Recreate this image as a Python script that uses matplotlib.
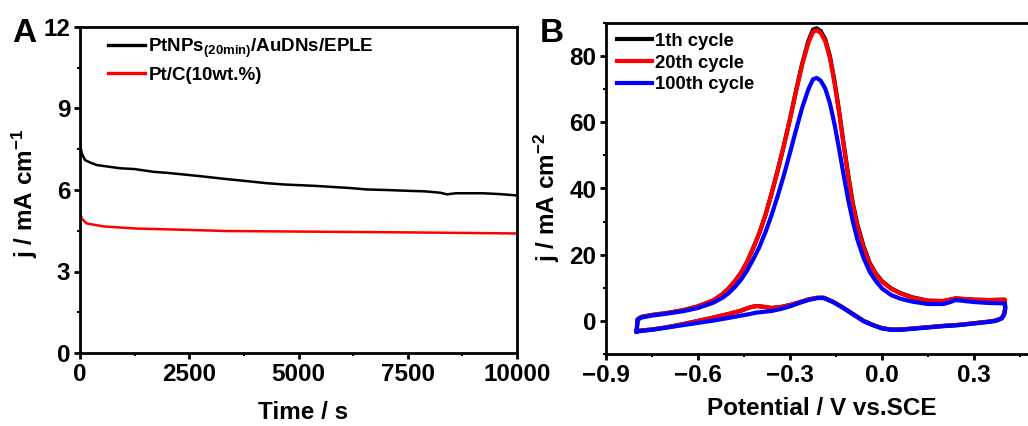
import numpy as np
import matplotlib
matplotlib.use("Agg")
import matplotlib.pyplot as plt
from matplotlib.ticker import MultipleLocator

plt.rcParams['font.family'] = ['Liberation Sans', 'DejaVu Sans']
plt.rcParams['font.weight'] = 'bold'
plt.rcParams['mathtext.fontset'] = 'custom'
plt.rcParams['mathtext.rm'] = 'Liberation Sans:bold'
plt.rcParams['mathtext.bf'] = 'Liberation Sans:bold'
plt.rcParams['mathtext.it'] = 'Liberation Sans:bold'

# ---- panel A: chronoamperometry
t_pt = [0, 10, 40, 115, 250, 380, 600, 916, 1250, 1680, 2000, 2440, 2800, 3360,
        3800, 4275, 4700, 5000, 5400, 5800, 6200, 6560, 7000, 7500, 7900, 8240,
        8400, 8600, 9230, 9600, 10000]
j_pt = [7.75, 7.6, 7.35, 7.1, 7.0, 6.92, 6.87, 6.8, 6.77, 6.67, 6.63, 6.56, 6.5, 6.4,
        6.33, 6.25, 6.2, 6.18, 6.15, 6.11, 6.07, 6.02, 6.0, 5.97, 5.95, 5.9,
        5.84, 5.88, 5.88, 5.85, 5.8]
t_ptc = [0, 10, 40, 150, 530, 1300, 2500, 3360, 5000, 7500, 10000]
j_ptc = [5.26, 5.1, 4.95, 4.77, 4.66, 4.58, 4.53, 4.49, 4.47, 4.44, 4.40]
labels_a = [r'PtNPs$_{(20min)}$/AuDNs/EPLE', 'Pt/C(10wt.%)']

# ---- panel B: CV cycles, forward scan then reverse scan
E_fwd = [-0.800, -0.797, -0.785, -0.75, -0.70, -0.65, -0.60, -0.55, -0.52, -0.50,
         -0.48, -0.46, -0.44, -0.42, -0.40, -0.38, -0.36, -0.34, -0.32, -0.30,
         -0.28, -0.26, -0.24, -0.225, -0.213, -0.20, -0.185, -0.17, -0.155, -0.14,
         -0.125, -0.11, -0.095, -0.08, -0.06, -0.04, -0.02, 0.00, 0.03, 0.06,
         0.10, 0.15, 0.20, 0.22, 0.24, 0.27, 0.30, 0.35, 0.40]
E_rev = [0.40, 0.402, 0.398, 0.39, 0.37, 0.35, 0.30, 0.25, 0.20, 0.15, 0.10, 0.06,
         0.03, 0.00, -0.03, -0.06, -0.10, -0.13, -0.16, -0.19, -0.21, -0.24, -0.27,
         -0.30, -0.33, -0.36, -0.39, -0.41, -0.43, -0.46, -0.50, -0.55, -0.60,
         -0.65, -0.70, -0.75, -0.80]

j1_fwd = [-3.0, 0.5, 1.2, 1.8, 2.4, 3.2, 4.4, 6.2, 8.1, 9.8,
          12.0, 14.5, 17.8, 22.0, 26.5, 32.0, 38.5, 45.5, 53.0, 61.0,
          69.7, 77.8, 84.6, 88.0, 88.4, 87.6, 85.0, 80.0, 72.5, 63.5,
          53.5, 44.0, 35.5, 29.0, 22.5, 17.5, 14.3, 12.0, 9.8, 8.4,
          7.1, 6.1, 6.0, 6.4, 6.8, 6.6, 6.4, 6.3, 6.4]
j20_fwd = [-3.0, 0.5, 1.2, 1.8, 2.4, 3.2, 4.4, 6.2, 8.1, 9.8,
           12.0, 14.5, 17.8, 22.0, 26.5, 32.0, 38.5, 45.5, 53.0, 61.0,
           69.5, 77.5, 84.0, 87.3, 87.8, 87.0, 84.5, 79.5, 72.0, 63.0,
           53.0, 43.5, 35.0, 28.5, 22.0, 17.2, 14.0, 11.8, 9.7, 8.3,
           7.0, 6.1, 6.0, 6.4, 6.8, 6.6, 6.4, 6.3, 6.4]
j100_fwd = [-3.2, 0.3, 1.0, 1.6, 2.2, 2.9, 3.9, 5.5, 7.0, 8.4,
            10.2, 12.4, 15.2, 18.6, 22.3, 26.8, 32.0, 37.8, 44.0, 50.8,
            57.8, 64.5, 70.0, 73.0, 73.4, 72.6, 70.2, 65.8, 59.5, 52.0,
            44.0, 36.5, 30.0, 24.5, 19.0, 14.8, 12.0, 9.8, 7.8, 6.7,
            5.8, 5.1, 5.1, 5.6, 6.3, 6.0, 5.7, 5.4, 5.3]

j1_rev = [6.4, 4.0, 2.0, 0.8, 0.1, -0.2, -0.7, -1.2, -1.5, -1.9, -2.3, -2.6,
          -2.6, -2.2, -1.2, 0.0, 2.4, 4.2, 5.8, 7.0, 7.0, 6.5, 5.6,
          4.8, 4.2, 3.9, 4.3, 4.5, 4.1, 3.1, 2.1, 1.0, 0.0,
          -1.0, -1.9, -2.6, -3.0]
j20_rev = [6.4, 4.0, 2.0, 0.8, 0.1, -0.2, -0.7, -1.2, -1.5, -1.9, -2.3, -2.6,
           -2.6, -2.2, -1.2, 0.0, 2.4, 4.2, 5.8, 7.0, 7.0, 6.5, 5.6,
           4.8, 4.2, 3.9, 4.3, 4.5, 4.1, 3.1, 2.1, 1.0, 0.0,
           -1.0, -1.9, -2.6, -3.0]
j100_rev = [5.3, 3.5, 1.8, 0.7, 0.0, -0.3, -0.8, -1.3, -1.6, -2.0, -2.4, -2.7,
            -2.7, -2.3, -1.3, -0.1, 2.3, 4.1, 5.7, 6.9, 6.9, 6.3, 5.4,
            4.4, 3.6, 3.0, 2.7, 2.5, 2.1, 1.6, 0.9, 0.1, -0.6,
            -1.3, -2.0, -2.7, -3.2]
labels_b = ['1th cycle', '20th cycle', '100th cycle']

fig = plt.figure(figsize=(10.28, 4.26), dpi=100)

axA = fig.add_axes([80/1028, 1-353/426, 437/1028, 326/426])
axB = fig.add_axes([606/1028, 1-354/426, 460/1028, 331/426])

axA.plot(t_pt, j_pt, color='black', lw=1.8, label=labels_a[0])
axA.plot(t_ptc, j_ptc, color='red', lw=1.8, label=labels_a[1])
axA.set_xlim(0, 10000)
axA.set_ylim(0, 12)
axA.xaxis.set_major_locator(MultipleLocator(2500))
axA.xaxis.set_minor_locator(MultipleLocator(1250))
axA.yaxis.set_major_locator(MultipleLocator(3))
axA.yaxis.set_minor_locator(MultipleLocator(1.5))
axA.set_xlabel('Time / s', fontsize=17.5, fontweight='bold')
axA.set_ylabel(r'j / mA cm$^{-1}$', fontsize=17.5, fontweight='bold')
axA.xaxis.set_label_coords(0.51, -0.148)
axA.yaxis.set_label_coords(-0.092, 0.49)
legA = axA.legend(loc='upper left', bbox_to_anchor=(0.064, 0.97), frameon=False,
                  fontsize=13.5, handlelength=2.0, handletextpad=0.15,
                  labelspacing=0.35, borderpad=0, borderaxespad=0)
for h in legA.get_lines():
    h.set_linewidth(2.4)

E_all = E_fwd + E_rev
cyc = [(j1_fwd + j1_rev, 'black'), (j20_fwd + j20_rev, 'red'), (j100_fwd + j100_rev, 'blue')]
for (jv, c), lab in zip(cyc, labels_b):
    axB.plot(E_all, jv, color=c, lw=3.0, label=lab, solid_joinstyle='round')
axB.set_xlim(-0.9, 0.6)
axB.set_ylim(-10, 90)
axB.xaxis.set_major_locator(MultipleLocator(0.3))
axB.xaxis.set_minor_locator(MultipleLocator(0.15))
axB.yaxis.set_major_locator(MultipleLocator(20))
axB.yaxis.set_minor_locator(MultipleLocator(10))
axB.set_xticks([-0.9, -0.6, -0.3, 0.0, 0.3])
axB.set_xticklabels(['\u22120.9', '\u22120.6', '\u22120.3', '0.0', '0.3'])
axB.set_xlabel('Potential / V vs.SCE', fontsize=17.5, fontweight='bold')
axB.set_ylabel(r'j / mA cm$^{-2}$', fontsize=17.5, fontweight='bold')
axB.xaxis.set_label_coords(0.47, -0.13)
axB.yaxis.set_label_coords(-0.096, 0.474)
legB = axB.legend(loc='upper left', bbox_to_anchor=(0.024, 0.97), frameon=False,
                  fontsize=13.3, handlelength=1.9, handletextpad=0.15,
                  labelspacing=0.25, borderpad=0, borderaxespad=0)
for h in legB.get_lines():
    h.set_linewidth(3.0)

for ax in (axA, axB):
    for s in ax.spines.values():
        s.set_linewidth(2.0)
    ax.tick_params(which='major', direction='out', length=4, width=2,
                   labelsize=17.5, pad=3)
    ax.tick_params(which='minor', direction='out', length=2.5, width=1.5)
    for lb in ax.get_xticklabels() + ax.get_yticklabels():
        lb.set_fontweight('bold')

fig.text(12/1028, 1-42/426, 'A', fontsize=24, fontweight='bold', va='baseline')
fig.text(540/1028, 1-42/426, 'B', fontsize=24, fontweight='bold', va='baseline')

fig.savefig('out.png', dpi=100)
